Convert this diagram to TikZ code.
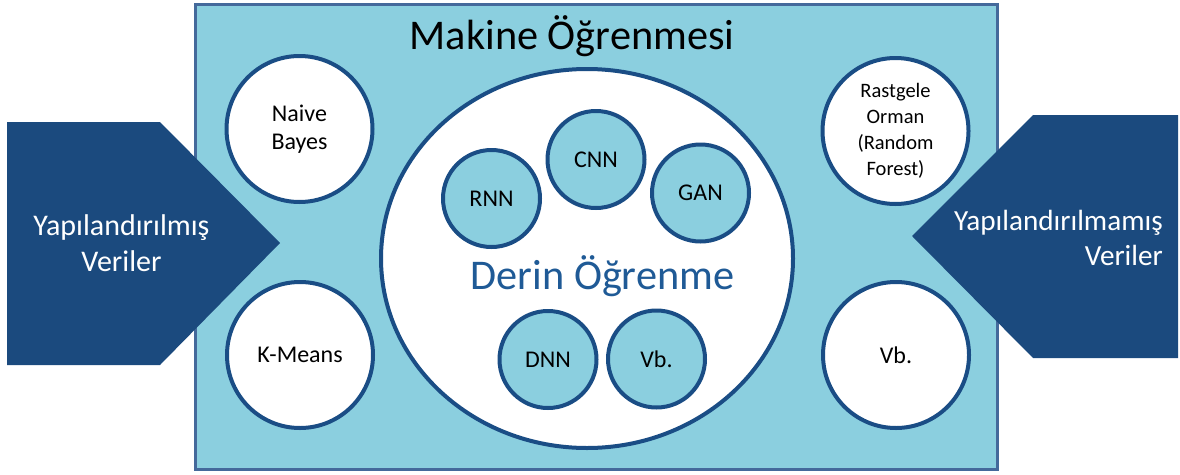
\documentclass[tikz,border=0pt]{standalone}
\usepackage{fontspec}
\setmainfont{Carlito}
\definecolor{bgcyan}{HTML}{8BCFDF}
\definecolor{navy}{HTML}{1A4D85}
\definecolor{arrowblue}{HTML}{1B4A7E}
\definecolor{rectborder}{HTML}{44699B}
\definecolor{deeptext}{HTML}{1F5A96}
\begin{document}
\begin{tikzpicture}[x=1pt,y=-1pt,
  bigcirc/.style={circle,draw=navy,line width=4pt,fill=white,minimum size=146pt,inner sep=0pt,align=center,font=\fontsize{24}{28.5}\selectfont},
  smallcirc/.style={circle,draw=navy,line width=4pt,fill=bgcyan,minimum size=97pt,inner sep=0pt,font=\fontsize{24}{28}\selectfont},
  arrowshape/.style={fill=arrowblue},
  arrowtext/.style={text=white,inner sep=0pt,font=\fontsize{30}{36}\selectfont},
  bigtitle/.style={inner sep=0pt,font=\fontsize{42.3}{48}\selectfont}]
\useasboundingbox (0,0) rectangle (1180,474);
% main frame
\draw[rectborder,line width=3pt,fill=bgcyan] (195,4) rectangle (997,469);
\node[bigtitle,anchor=base] (title) at (572,49) {Makine Öğrenmesi};
% deep learning ellipse
\draw[navy,line width=4pt,fill=white] (587,258.5) ellipse [x radius=206pt, y radius=189.5pt];
\node[bigtitle,anchor=base,text=deeptext] (derin) at (602.5,289) {Derin Öğrenme};
% outer circles
\node[bigcirc] (naive) at (299.5,129) {Naive\\Bayes};
\node[bigcirc] (kmeans) at (300,355) {K-Means};
\node[bigcirc,font=\fontsize{20.5}{26}\selectfont] (rf) at (895.5,131) {Rastgele\\Orman\\(Random\\Forest)};
\node[bigcirc] (vbout) at (896,355) {Vb.};
% inner circles
\node[smallcirc] (cnn) at (596,159.5) {CNN};
\node[smallcirc] (rnn) at (491.5,198.5) {RNN};
\node[smallcirc] (gan) at (700.5,193) {GAN};
\node[smallcirc] (dnn) at (548,359.5) {DNN};
\node[smallcirc] (vbin) at (656.5,359) {Vb.};
% arrows
\fill[arrowshape] (7,122) -- (160,122) -- (280,243) -- (160,365) -- (7,365) -- cycle;
\fill[arrowshape] (1178,115) -- (1033,115) -- (912,236) -- (1033,358) -- (1178,358) -- cycle;
\node[arrowtext,anchor=base] (lt1) at (121.5,235) {Yapılandırılmış};
\node[arrowtext,anchor=base] (lt2) at (121.5,271.5) {Veriler};
\node[arrowtext,anchor=base east,font=\fontsize{29.2}{36}\selectfont] (rt1) at (1163,230) {Yapılandırılmamış};
\node[arrowtext,anchor=base east,font=\fontsize{29.2}{36}\selectfont] (rt2) at (1163,265) {Veriler};
\end{tikzpicture}
\end{document}
